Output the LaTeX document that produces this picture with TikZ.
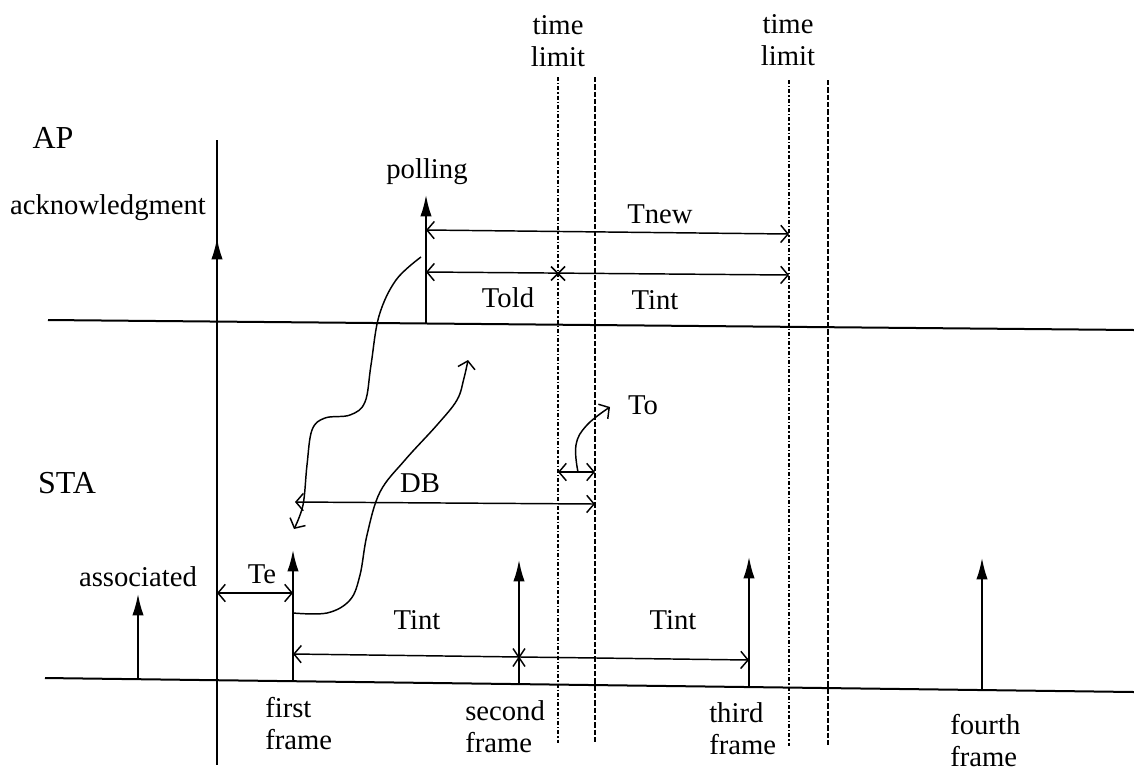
\documentclass[tikz,border=0pt]{standalone}
\usepackage{fontspec}
\setmainfont{Liberation Serif}
\usetikzlibrary{arrows.meta}
\begin{document}
\begin{tikzpicture}[x=0.75pt,y=-0.75pt,
  axis/.style={line width=1.5pt},
  sig/.style={line width=1.3pt,-{Latex[length=16pt,width=8.5pt]}},
  dim/.style={line width=1.1pt,{Straight Barb[length=5.5pt,width=13pt]}-{Straight Barb[length=5.5pt,width=13pt]}},
  curvy/.style={line width=1.1pt,-{Straight Barb[length=5.5pt,width=13pt]}},
  limA/.style={line width=1pt,dash pattern=on 3pt off 1.5pt on 1pt off 1.5pt},
  limB/.style={line width=1.2pt,dash pattern=on 4pt off 1.5pt},
  lbl/.style={font=\fontsize{21.5}{24}\selectfont,inner sep=0pt},
  big/.style={font=\fontsize{24}{28}\selectfont,inner sep=0pt},
  two/.style={lbl,align=center},
  twoL/.style={lbl,align=left,anchor=west},
  crossmark/.style={line width=1.1pt}
]
\useasboundingbox (0,0) rectangle (1134,772);

% time lines
\coordinate (apL) at (48,320); \coordinate (apR) at (1134,330);
\coordinate (staL) at (45,678); \coordinate (staR) at (1134,692);
\draw[axis] (apL) -- (apR);
\draw[axis] (staL) -- (staR);
\coordinate (vT) at (217,140); \coordinate (vB) at (217,765);
\draw[axis] (vT) -- (vB);

% time limit lines
\coordinate (la1t) at (558,77); \coordinate (la1b) at (558,743);
\coordinate (lb1t) at (595,77); \coordinate (lb1b) at (595,743);
\coordinate (la2t) at (789,80); \coordinate (la2b) at (789,746);
\coordinate (lb2t) at (828,80); \coordinate (lb2b) at (828,747);
\draw[limA] (la1t) -- (la1b);
\draw[limB] (lb1t) -- (lb1b);
\draw[limA] (la2t) -- (la2b);
\draw[limB] (lb2t) -- (lb2b);

% signal arrows
\coordinate (ackB) at (217,321); \coordinate (ackT) at (217,238);
\coordinate (polB) at (426,324); \coordinate (polT) at (426,195);
\coordinate (asB) at (138,679); \coordinate (asT) at (138,594);
\coordinate (f1B) at (293,681); \coordinate (f1T) at (293,550);
\coordinate (f2B) at (519,684); \coordinate (f2T) at (519,560);
\coordinate (f3B) at (749,687); \coordinate (f3T) at (749,557);
\coordinate (f4B) at (982,690); \coordinate (f4T) at (982,558);
\draw[sig] (ackB) -- (ackT);
\draw[sig] (polB) -- (polT);
\draw[sig] (asB) -- (asT);
\draw[sig] (f1B) -- (f1T);
\draw[sig] (f2B) -- (f2T);
\draw[sig] (f3B) -- (f3T);
\draw[sig] (f4B) -- (f4T);

% dimension arrows
\coordinate (tnL) at (426,230); \coordinate (tnR) at (789,234);
\draw[dim] (tnL) -- (tnR);
\coordinate (toL) at (426,272); \coordinate (toR) at (789,275);
\draw[dim] (toL) -- (toR);
\coordinate (x1) at (558,273.5);
\draw[crossmark] ([shift={(-7,-7)}]x1) -- ([shift={(7,7)}]x1) ([shift={(-7,7)}]x1) -- ([shift={(7,-7)}]x1);
\coordinate (smL) at (558,472); \coordinate (smR) at (595,472);
\draw[dim] (smL) -- (smR);
\coordinate (dbL) at (295,502); \coordinate (dbR) at (595,504);
\draw[dim] (dbL) -- (dbR);
\coordinate (teL) at (217,593); \coordinate (teR) at (293,593);
\draw[dim] (teL) -- (teR);
\coordinate (tiL) at (293,654); \coordinate (tiR) at (749,660);
\draw[dim] (tiL) -- (tiR);
\coordinate (x2) at (519,657.5);
\draw[crossmark] ([shift={(-6,-9)}]x2) -- ([shift={(6,9)}]x2) ([shift={(-6,9)}]x2) -- ([shift={(6,-9)}]x2);

% curved pointers
\draw[curvy] plot[smooth,tension=0.6] coordinates {(421,257) (396,280) (379,316) (371,365) (365,402) (350,415) (325,418) (312,430) (307,465) (303,505) (294,529)};
\draw[curvy] plot[smooth,tension=0.6] coordinates {(293,613) (327,613) (350,600) (360,575) (367,535) (380,492) (405,460) (437,425) (457,400) (464,378) (468,360)};
\draw[curvy] plot[smooth,tension=0.7] coordinates {(578,472) (576,445) (587,425) (610,407)};

% labels
\node[big] (lAP) at (53,138) {AP};
\node[big] (lSTA) at (67,483) {STA};
\node[lbl] (lack) at (108,208) {acknowledgment};
\node[lbl] (lpol) at (427,172) {polling};
\node[lbl] (lass) at (138,577) {associated};
\node[two] (ltl1) at (558,41) {time\\limit};
\node[two] (ltl2) at (788,40) {time\\limit};
\node[lbl] (lTnew) at (660,214) {Tnew};
\node[lbl] (lTold) at (508,298) {Told};
\node[lbl] (lTint1) at (655,300) {Tint};
\node[lbl] (lTo) at (643,405) {To};
\node[lbl] (lDB) at (420,483) {DB};
\node[lbl] (lTe) at (262,574) {Te};
\node[lbl] (lTint2) at (417,620) {Tint};
\node[lbl] (lTint3) at (673,620) {Tint};
\node[twoL] (lf1) at (265,724) {first\\frame};
\node[twoL] (lf2) at (465,727) {second\\frame};
\node[twoL] (lf3) at (709,729) {third\\frame};
\node[twoL] (lf4) at (950,741) {fourth\\frame};
\end{tikzpicture}
\end{document}
